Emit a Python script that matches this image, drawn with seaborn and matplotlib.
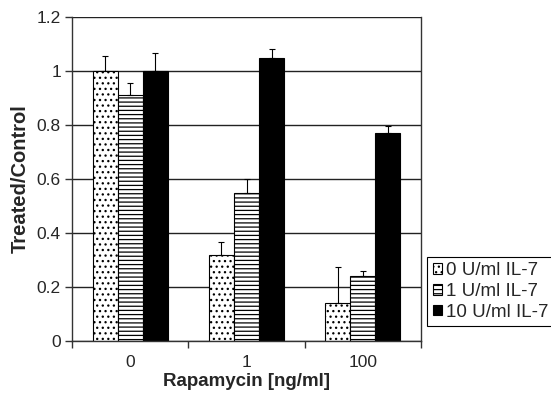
import matplotlib
matplotlib.use("Agg")
import matplotlib.pyplot as plt
import seaborn as sns
import pandas as pd
import numpy as np
from matplotlib.ticker import FuncFormatter, FixedLocator

sns.set_style("white")
plt.rcParams['font.family'] = ['Liberation Sans', 'DejaVu Sans']
plt.rcParams['hatch.linewidth'] = 0.9

doses = ["0", "1", "100"]
groups = ["0 U/ml IL-7", "1 U/ml IL-7", "10 U/ml IL-7"]
vals_0 = [1.00, 0.32, 0.14]
vals_1 = [0.91, 0.55, 0.24]
vals_10 = [1.00, 1.05, 0.77]
err_0 = [0.056, 0.048, 0.135]
err_1 = [0.047, 0.050, 0.020]
err_10 = [0.068, 0.033, 0.027]
yticks = [0, 0.2, 0.4, 0.6, 0.8, 1.0, 1.2]

values = [vals_0, vals_1, vals_10]
errors = [err_0, err_1, err_10]
rows = []
for g, vs in zip(groups, values):
    for d, v in zip(doses, vs):
        rows.append({"dose": d, "group": g, "value": v})
df = pd.DataFrame(rows)

fig = plt.figure(figsize=(5.51, 3.97), dpi=100)
ax = fig.add_axes([72/551, 1-341/397, 349/551, 324/397])

sns.barplot(data=df, x="dose", y="value", hue="group", order=doses,
            hue_order=groups, palette=["white", "white", "black"],
            edgecolor="black", linewidth=0.8, width=0.645,
            errorbar=None, legend=False, saturation=1, ax=ax)

hatches = ["...", "----", None]
for cont, h, vs, es in zip(ax.containers, hatches, values, errors):
    xs = []
    for p in cont.patches:
        if h:
            p.set_hatch(h)
        xs.append(p.get_x() + p.get_width() / 2)
    ax.errorbar(xs, vs, yerr=[np.zeros(len(es)), es], fmt="none",
                ecolor="black", elinewidth=0.8, capsize=2.5, capthick=0.8,
                zorder=3)

ax.set_ylim(0, 1.2)
ax.set_xlim(-0.5, 2.5)
ax.set_yticks(yticks)
ax.yaxis.set_major_formatter(FuncFormatter(lambda v, p: f"{v:g}"))
ax.yaxis.grid(True, color="#222222", linewidth=1.0)
ax.set_axisbelow(True)

ax.xaxis.set_minor_locator(FixedLocator([-0.5, 0.5, 1.5, 2.5]))
ax.tick_params(axis="x", which="major", length=0, labelsize=12.5, pad=10)
ax.tick_params(axis="x", which="minor", length=5, width=1, direction="out", color="#333333", bottom=True)
ax.tick_params(axis="y", which="major", length=5, width=1, direction="out", color="#333333", left=True, labelsize=12.5, pad=3)

for s in ["left", "right", "bottom"]:
    ax.spines[s].set_visible(True)
    ax.spines[s].set_color("#333333")
    ax.spines[s].set_linewidth(1.0)
ax.spines["top"].set_visible(False)

ax.set_xlabel("Rapamycin [ng/ml]", fontsize=13.5, fontweight="bold", labelpad=2)
ax.set_ylabel("Treated/Control", fontsize=14.5, fontweight="bold", labelpad=5)

leg = ax.legend(ax.containers, groups, loc="lower left",
                bbox_to_anchor=(1.017, 0.045), fontsize=13.5,
                handlelength=0.5, handleheight=0.5, handletextpad=0.2,
                borderpad=0.3, labelspacing=0.2, borderaxespad=0,
                frameon=True, fancybox=False, framealpha=1)
leg.get_frame().set_edgecolor("black")
leg.get_frame().set_linewidth(0.8)

fig.savefig("out.png", dpi=100)
